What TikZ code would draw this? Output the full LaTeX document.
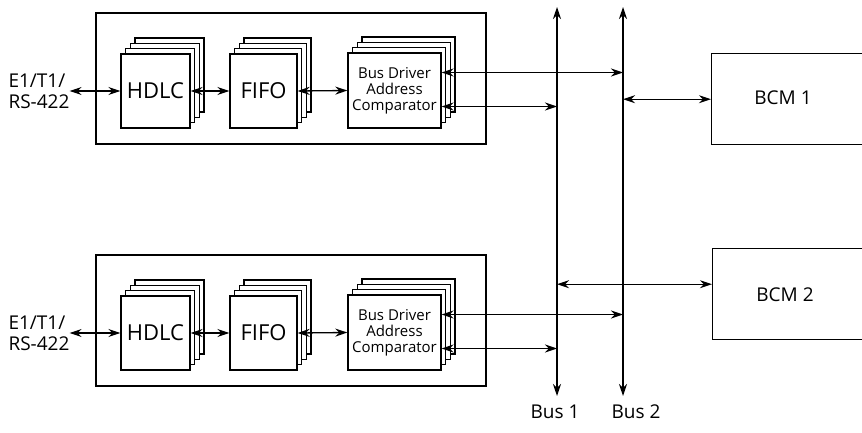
\documentclass[tikz,border=0pt]{standalone}
\usepackage{fontspec}
\setmainfont{Open Sans}
\usetikzlibrary{arrows.meta, positioning, calc}
\tikzset{
  card/.style={rectangle, draw, fill=white, line width=1.3pt, minimum height=74pt, inner sep=0pt, font=\fontsize{22}{22}\selectfont},
  board/.style={draw, line width=1.5pt},
  bcm/.style={rectangle, draw, line width=1.4pt, minimum height=91pt, minimum width=200pt, anchor=north west},
  link/.style={{Stealth[length=12pt,width=8pt]}-{Stealth[length=12pt,width=8pt]}, line width=1.3pt},
  lbl/.style={font=\fontsize{19}{21}\selectfont, align=left, inner sep=0pt}
}

\begin{document}
\begin{tikzpicture}[x=1pt, y=-1pt]
  \clip (0,0) rectangle (862,433);

  % Buses
  \coordinate (b1top) at (557,7);
  \coordinate (b1bot) at (557,396);
  \coordinate (b2top) at (623,7);
  \coordinate (b2bot) at (623,396);
  \draw[link] (b1top) -- (b1bot);
  \draw[link] (b2top) -- (b2bot);
  \node[lbl, below=9pt of b1bot, xshift=-2pt] (bus1lbl) {Bus 1};
  \node[lbl, below=9pt of b2bot, xshift=13pt] (bus2lbl) {Bus 2};

  % Line cards
  \foreach \b/\y in {1/0, 2/242} {
    \draw[board] (96,13+\y) rectangle (486,144+\y);
    \foreach \k in {3,2,1} {
      \node[card, minimum width=69pt] at (155.5+\k*4.7, 91+\y-\k*5.3) {};
      \node[card, minimum width=67pt] at (263.5+\k*4.7, 91+\y-\k*5.3) {};
      \node[card, minimum width=93pt, minimum height=75pt] at (394.5+\k*4.7, 90.5+\y-\k*5.3) {};
    }
    \node[card, minimum width=69pt] (hdlc\b) at (155.5, 91+\y) {HDLC};
    \node[card, minimum width=67pt] (fifo\b) at (263.5, 91+\y) {FIFO};
    \node[card, minimum width=93pt, minimum height=75pt, align=center,
      font=\fontsize{15}{16}\selectfont] (drv\b) at (394.5, 90.5+\y) {Bus Driver\\Address\\Comparator};
    \node[lbl] (ext\b) at (39, 91+\y) {E1/T1/\\RS-422};

    \draw[link] (ext\b.east |- hdlc\b.west) -- (hdlc\b.west);
    \draw[link] (hdlc\b.east) -- (fifo\b.west);
    \draw[link] (fifo\b.east) -- (drv\b.west);
    \coordinate (dtop\b) at ([yshift=18pt]drv\b.east);
    \coordinate (dbot\b) at ([yshift=-16pt]drv\b.east);
    \draw[link] (dtop\b) -- (dtop\b -| b2top);
    \draw[link] (dbot\b) -- (dbot\b -| b1top);
  }

  % Bus control modules
  \node[bcm] (bcm1) at (711,53) {};
  \node[lbl] (bcm1txt) at (783,98) {BCM 1};
  \draw[link] (bcm1.west -| b2top) -- (bcm1.west);
  \node[bcm] (bcm2) at (712,248) {};
  \node[lbl] (bcm2txt) at (785,295) {BCM 2};
  \coordinate (c2) at ([yshift=10pt]bcm2.west);
  \draw[link] (c2 -| b1top) -- (c2);
\end{tikzpicture}
\end{document}
